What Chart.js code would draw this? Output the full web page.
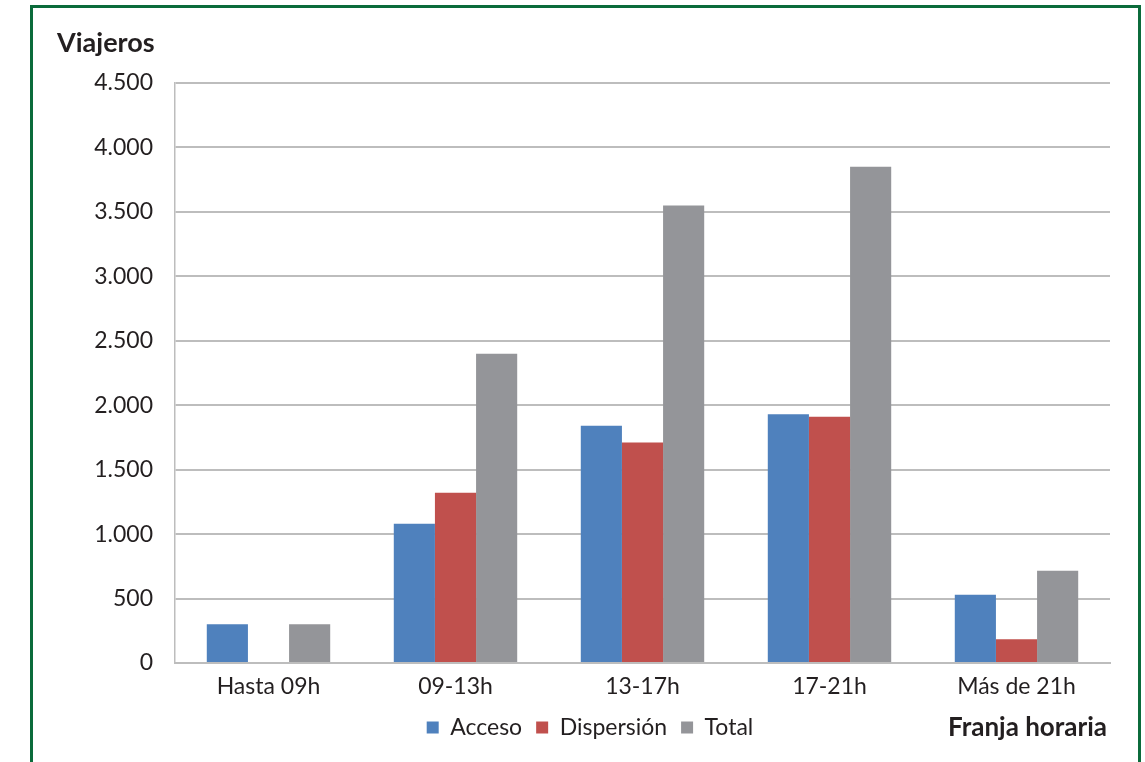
<!DOCTYPE html>
<html lang="es">
<head>
<meta charset="utf-8">
<title>Viajeros por franja horaria</title>
<script src="https://cdn.jsdelivr.net/npm/chart.js@4.4.1/dist/chart.umd.min.js"></script>
<style>
  html, body { margin: 0; padding: 0; background: #ffffff; }
  body { width: 1145px; height: 762px; position: relative; overflow: hidden; }
  #frame {
    position: absolute; left: 30px; top: 5px; width: 1105px; height: 800px;
    border: 3px solid #0b6b3b; border-bottom: none; box-sizing: content-box;
  }
  #wrap { position: absolute; left: 0; top: 0; width: 1145px; height: 762px; }
</style>
</head>
<body>
<div id="frame"></div>
<div id="wrap"><canvas id="chart"></canvas></div>
<script>
// Franjas horarias y viajeros por tipo de movimiento
const categories = ['Hasta 09h', '09-13h', '13-17h', '17-21h', 'Más de 21h'];
const acceso     = [300, 1080, 1840, 1930, 530];
const dispersion = [0, 1320, 1710, 1910, 185];
const total      = [300, 2400, 3550, 3850, 715];
const yTickLabels = ['0', '500', '1.000', '1.500', '2.000', '2.500', '3.000', '3.500', '4.000', '4.500'];

const FONT = 'Lato, "Open Sans", sans-serif';
const TEXT = '#231f20';
const GRID = '#bdbdbd';

// Títulos de los ejes, dibujados en horizontal
const axisTitles = {
  id: 'axisTitles',
  afterDraw(chart) {
    const ctx = chart.ctx;
    ctx.save();
    ctx.fillStyle = TEXT;
    ctx.font = 'bold 27px ' + FONT;
    ctx.textBaseline = 'middle';
    ctx.textAlign = 'left';
    ctx.fillText('Viajeros', 57, 43);
    ctx.font = 'bold 26px ' + FONT;
    ctx.textAlign = 'right';
    ctx.fillText('Franja horaria', 1107, 728);
    ctx.restore();
  }
};

new Chart(document.getElementById('chart'), {
  type: 'bar',
  data: {
    labels: categories,
    datasets: [
      { label: 'Acceso', data: acceso, backgroundColor: '#4f81bd' },
      { label: 'Dispersión', data: dispersion, backgroundColor: '#c0504d' },
      { label: 'Total', data: total, backgroundColor: '#949599' }
    ]
  },
  options: {
    responsive: true,
    maintainAspectRatio: false,
    animation: false,
    layout: { padding: { left: 70, right: 35, top: 83, bottom: 13 } },
    datasets: { bar: { categoryPercentage: 0.66, barPercentage: 1.0, borderWidth: 0 } },
    scales: {
      x: {
        grid: { display: false, drawTicks: false },
        border: { display: true, color: GRID, width: 2 },
        ticks: { color: TEXT, font: { family: FONT, size: 23 }, padding: 10, maxRotation: 0 },
        afterFit(scale) { scale.height = 39; }
      },
      y: {
        min: 0, max: 4500,
        grid: { color: GRID, lineWidth: 2, drawTicks: false },
        border: { display: true, color: GRID, width: 1.5 },
        ticks: {
          stepSize: 500,
          color: TEXT,
          font: { family: FONT, size: 23 },
          padding: 22,
          callback: (v, i) => yTickLabels[i]
        },
        afterFit(scale) { scale.width = 105; }
      }
    },
    plugins: {
      legend: {
        position: 'bottom',
        labels: {
          boxWidth: 12, boxHeight: 12, padding: 14,
          color: TEXT, font: { family: FONT, size: 23 }
        }
      },
      tooltip: { enabled: false },
      title: { display: false }
    }
  },
  plugins: [axisTitles]
});
</script>
</body>
</html>
